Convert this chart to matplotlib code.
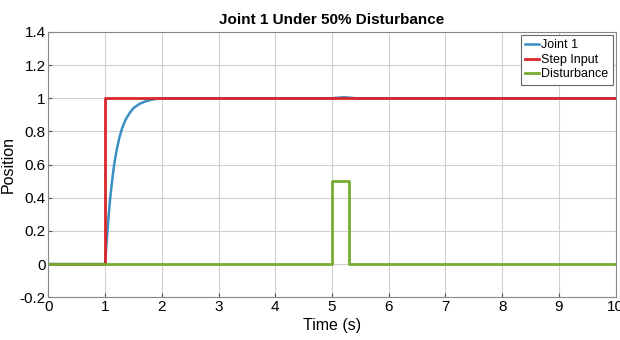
import numpy as np
import matplotlib.pyplot as plt

plt.rcParams['font.family'] = ['Liberation Sans', 'DejaVu Sans']

# Joint 1 response
t_joint = [0, 1.0, 1.02, 1.04, 1.06, 1.08, 1.10, 1.13, 1.16, 1.20, 1.25, 1.30,
           1.36, 1.43, 1.50, 1.60, 1.70, 1.80, 1.90, 2.0, 5.0, 5.1, 5.2, 5.3,
           5.4, 10.0]
y_joint = [0, 0, 0.10, 0.19, 0.28, 0.36, 0.43, 0.52, 0.60, 0.68, 0.76, 0.82,
           0.87, 0.91, 0.94, 0.965, 0.98, 0.99, 0.996, 1.0, 1.0, 1.003,
           1.006, 1.004, 1.0, 1.0]

# Step input
t_step = [0, 1, 1, 10]
y_step = [0, 0, 1, 1]

# Disturbance pulse (50%)
t_dist = [0, 5.0, 5.0, 5.3, 5.3, 10]
y_dist = [0, 0, 0.5, 0.5, 0, 0]

x_ticks = list(range(0, 11))
y_ticks = [-0.2, 0, 0.2, 0.4, 0.6, 0.8, 1, 1.2, 1.4]
y_ticklabels = ['-0.2', '0', '0.2', '0.4', '0.6', '0.8', '1', '1.2', '1.4']

fig = plt.figure(figsize=(6.2, 3.4), dpi=100)
ax = fig.add_axes([0.078, 0.126, 0.915, 0.78])

ax.plot(t_joint, y_joint, color='#3a8fc4', lw=1.8, label='Joint 1')
ax.plot(t_step, y_step, color='#d9262b', lw=2, label='Step Input')
ax.plot(t_dist, y_dist, color='#77ac30', lw=2, label='Disturbance')

ax.set_xlim(0, 10)
ax.set_ylim(-0.2, 1.4)
ax.set_xticks(x_ticks)
ax.set_yticks(y_ticks)
ax.set_yticklabels(y_ticklabels)
ax.tick_params(labelsize=11, length=3, direction='in', color='#555555', pad=2)
ax.grid(True, color='#d0d0d0', lw=0.8)
for s in ax.spines.values():
    s.set_color('#888888')
    s.set_linewidth(0.8)

ax.set_title('Joint 1 Under 50% Disturbance', fontsize=11, fontweight='bold', pad=6)
ax.set_xlabel('Time (s)', fontsize=11.5, labelpad=3)
ax.set_ylabel('Position', fontsize=11.5, labelpad=3)

leg = ax.legend(loc='upper right', fontsize=9, handlelength=1.1, handletextpad=0.15,
                borderpad=0.35, labelspacing=0.2, fancybox=False, framealpha=1,
                borderaxespad=0.25)
leg.get_frame().set_edgecolor('#666666')
leg.get_frame().set_linewidth(0.8)

fig.savefig('out.png', dpi=100)
